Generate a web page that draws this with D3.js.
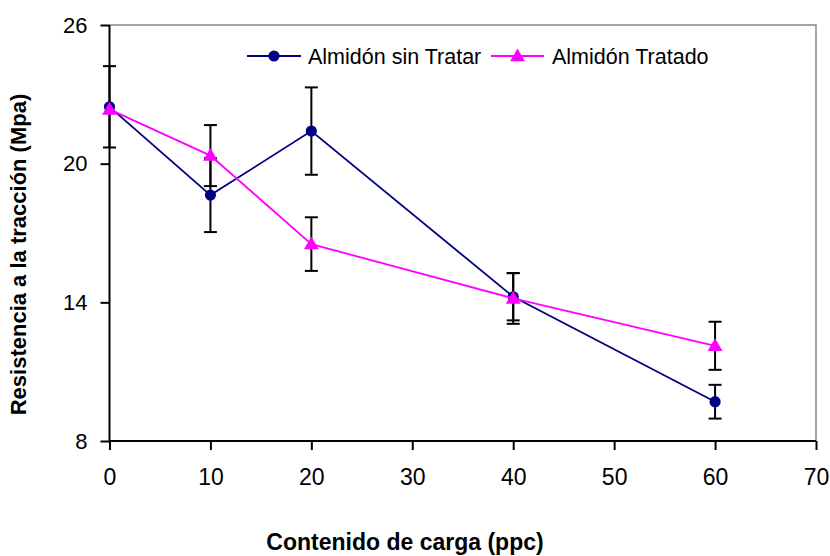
<!DOCTYPE html>
<html>
<head>
<meta charset="utf-8">
<script src="https://cdn.jsdelivr.net/npm/d3@7"></script>
<style>
  html, body { margin: 0; padding: 0; background: #fff; }
  svg { display: block; font-family: "Liberation Sans", Arial, sans-serif; }
</style>
</head>
<body>
<svg id="chart" width="830" height="556"></svg>
<script>
// Filler content (ppc) and tensile strength (MPa)
const contenido = [0, 10, 20, 40, 60];
const sinTratar = [22.46, 18.64, 21.41, 14.24, 9.70];
const sinTratarErr = [1.76, 1.60, 1.89, 1.02, 0.73];
const tratado = [22.35, 20.35, 16.52, 14.17, 12.12];
const tratadoErr = [0, 1.32, 1.16, 1.10, 1.04];
const xTicks = [0, 10, 20, 30, 40, 50, 60, 70];
const yTicks = [8, 14, 20, 26];

const seriesNames = ["Almidón sin Tratar", "Almidón Tratado"];
const xTitle = "Contenido de carga (ppc)";
const yTitle = "Resistencia a la tracción (Mpa)";

const svg = d3.select("#chart");
const plotLeft = 109.5, plotRight = 816, plotTop = 25, plotBottom = 441;

const x = d3.scaleLinear().domain([0, 70]).range([plotLeft, plotRight]);
const y = d3.scaleLinear().domain([8, 26]).range([plotBottom, plotTop]);

// plot frame: grey top and right edges
svg.append("path")
  .attr("d", `M${plotLeft},${plotTop}H${plotRight}V${plotBottom}`)
  .attr("fill", "none").attr("stroke", "#888").attr("stroke-width", 1.5);

// axes
const xAxis = svg.append("g").attr("transform", `translate(0,${plotBottom})`)
  .call(d3.axisBottom(x).tickValues(xTicks).tickSize(9).tickPadding(19).tickFormat(d3.format("d")));
const yAxis = svg.append("g").attr("transform", `translate(${plotLeft},0)`)
  .call(d3.axisLeft(y).tickValues(yTicks).tickSize(9).tickPadding(13).tickFormat(d3.format("d")));
[xAxis, yAxis].forEach(g => {
  g.select(".domain").attr("stroke", "#000").attr("stroke-width", 2);
  g.selectAll(".tick line").attr("stroke", "#000").attr("stroke-width", 2);
  g.selectAll(".tick text").attr("fill", "#000")
    .attr("font-family", "'Liberation Sans', Arial, sans-serif");
});
xAxis.selectAll(".tick text").attr("font-size", 23);
yAxis.selectAll(".tick text").attr("font-size", 22);
xAxis.select(".domain").attr("d", `M${plotLeft},0H${plotRight}`);
yAxis.select(".domain").attr("d", `M0,${plotBottom}V${plotTop}`);

// axis titles
svg.append("text")
  .attr("x", 405).attr("y", 550)
  .attr("text-anchor", "middle").attr("font-weight", "bold").attr("font-size", 23)
  .text(xTitle);
svg.append("text")
  .attr("transform", "translate(26,254.5) rotate(-90)")
  .attr("text-anchor", "middle").attr("font-weight", "bold").attr("font-size", 22)
  .text(yTitle);

const series = [
  { name: seriesNames[0], values: sinTratar, err: sinTratarErr, color: "#000080", marker: "circle" },
  { name: seriesNames[1], values: tratado, err: tratadoErr, color: "#FF00FF", marker: "triangle" }
];

const line = d3.line().x((d, i) => x(contenido[i])).y(d => y(d));
const triangle = d3.symbol().type(d3.symbolTriangle).size(95);
const capW = 6.5;

function drawMarker(g, kind, cx, cy, color) {
  if (kind === "circle") {
    g.append("circle").attr("cx", cx).attr("cy", cy).attr("r", 5.6).attr("fill", color);
  } else {
    g.append("path").attr("d", triangle()).attr("transform", `translate(${cx},${cy + 1})`).attr("fill", color);
  }
}

series.forEach(s => {
  const g = svg.append("g");
  // error bars
  s.values.forEach((v, i) => {
    const e = s.err[i];
    if (!e) return;
    const cx = x(contenido[i]), y1 = y(v + e), y2 = y(v - e);
    g.append("line").attr("x1", cx).attr("x2", cx).attr("y1", y1).attr("y2", y2)
      .attr("stroke", "#000").attr("stroke-width", 2);
    [y1, y2].forEach(yy => g.append("line")
      .attr("x1", cx - capW).attr("x2", cx + capW).attr("y1", yy).attr("y2", yy)
      .attr("stroke", "#000").attr("stroke-width", 2));
  });
  g.append("path").datum(s.values).attr("d", line)
    .attr("fill", "none").attr("stroke", s.color).attr("stroke-width", 1.8);
  s.values.forEach((v, i) => drawMarker(g, s.marker, x(contenido[i]), y(v), s.color));
});

// legend
const legend = svg.append("g");
const legendItems = [
  { s: series[0], x0: 247, x1: 301, tx: 308 },
  { s: series[1], x0: 491, x1: 544, tx: 552 }
];
legendItems.forEach(it => {
  const ly = 56;
  legend.append("line").attr("x1", it.x0).attr("x2", it.x1).attr("y1", ly).attr("y2", ly)
    .attr("stroke", it.s.color).attr("stroke-width", 1.8);
  drawMarker(legend, it.s.marker, (it.x0 + it.x1) / 2, ly, it.s.color);
  legend.append("text").attr("x", it.tx).attr("y", ly + 8)
    .attr("font-size", 21.5).attr("fill", "#000").text(it.s.name);
});
</script>
</body>
</html>
